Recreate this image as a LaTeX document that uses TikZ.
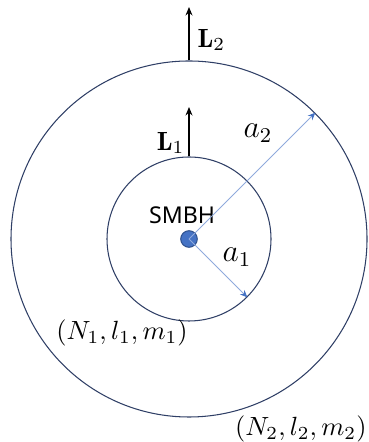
\documentclass[tikz,border=0pt]{standalone}
\usepackage{amsmath, amsfonts, amssymb}
\usepackage{fontspec}
\newfontfamily\labelfont{Noto Sans}
\usetikzlibrary{arrows.meta}
\usetikzlibrary{positioning}
\usetikzlibrary{calc}

\definecolor{orbitcol}{HTML}{2F3F66}
\definecolor{radiuscol}{HTML}{8FAADC}
\definecolor{tipcol}{HTML}{4472C4}
\definecolor{bhfill}{HTML}{4472C4}
\definecolor{bhdraw}{HTML}{2F528F}

\begin{document}
\begin{tikzpicture}[x=0.38pt, y=0.38pt,
    orbit/.style={circle, draw=orbitcol, line width=0.4pt, inner sep=0pt},
    momentum/.style={-{Stealth[length=3.2pt, width=2.6pt]}, line width=0.8pt, black},
    radius/.style={-{Stealth[length=2.8pt, width=2.4pt, color=tipcol]}, radiuscol, line width=0.35pt},
    every node/.style={inner sep=0pt}]

        % Picture frame
        \useasboundingbox (0, 0) rectangle (368, 442);

        % Radii of the two orbits
        \def\rin{82}
        \def\rout{178}

        % Black hole in the centre
        \node[circle, fill=bhfill, draw=bhdraw, line width=0.4pt, minimum size=6.3pt] (bh) at (189, 203) {};
        \node[font=\labelfont\fontsize{8.8}{10}\selectfont] (bhlabel) at (182, 227) {SMBH};

        % Inner and outer orbits
        \node[orbit, minimum size={2*\rin*0.38pt}] (orb1) at (bh) {};
        \node[orbit, minimum size={2*\rout*0.38pt}] (orb2) at (bh) {};

        % Angular momenta
        \coordinate (top1) at (189, 335);
        \coordinate (top2) at (189, 435);
        \draw[momentum] (orb1.north) -- (top1);
        \draw[momentum] (orb2.north) -- (top2);
        \node[anchor=east] (L1) at (185, 299) {$\mathbf{L}_1$};
        \node[anchor=west] (L2) at (197, 402) {$\mathbf{L}_2$};

        % Semi-major axes
        \draw[radius] (bh.center) -- (orb1.-45);
        \draw[radius] (bh.center) -- (orb2.45);
        \node[font=\large] (a1) at (237, 185) {$a_1$};
        \node[font=\large] (a2) at (258, 309) {$a_2$};

        % Quantum numbers of each orbit
        \node (n1) at (122, 109) {$(N_1, l_1, m_1)$};
        \node[anchor=east] (n2) at (367, 13) {$(N_2, l_2, m_2)$};

      \end{tikzpicture}
\end{document}
